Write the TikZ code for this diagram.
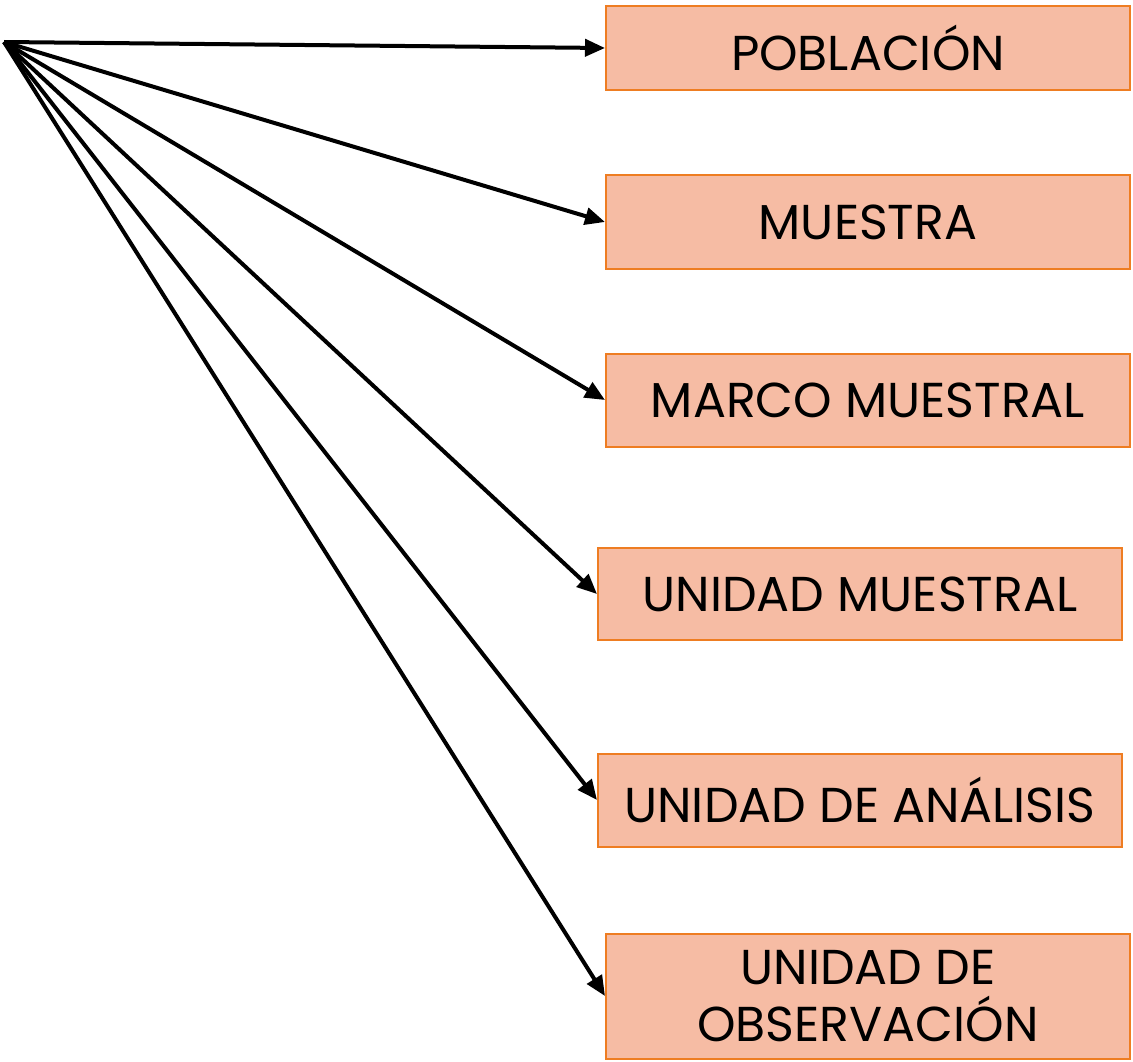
\documentclass[tikz,border=0pt]{standalone}
\usepackage{fontspec}
\setmainfont{Poppins}
\usetikzlibrary{arrows.meta}
\definecolor{boxfill}{HTML}{F6BCA4}
\definecolor{boxline}{HTML}{EE7D22}
\tikzstyle{concepto}=[draw=boxline, line width=2pt, fill=boxfill,
  minimum width=524pt, inner sep=0pt, align=center,
  font=\fontsize{49}{57}\selectfont]
\tikzstyle{flecha}=[-{Triangle[length=20pt,width=17pt]}, line width=4pt]
\begin{document}
\begin{tikzpicture}[x=1pt,y=-1pt]
  \useasboundingbox (0,0) rectangle (1133,1062);

  \coordinate (origen) at (4,42);

  \node[concepto, minimum height=84pt] (pob)  at (868,48)  {POBLACIÓN};
  \node[concepto, minimum height=93pt] (mue)  at (868,222) {MUESTRA};
  \node[concepto, minimum height=93pt] (mar)  at (868,400) {MARCO MUESTRAL};
  \node[concepto, minimum height=92pt] (uni)  at (860,594) {UNIDAD MUESTRAL};
  \node[concepto, minimum height=93pt] (ana)  at (860,800) {UNIDAD DE ANÁLISIS};
  \node[concepto, minimum height=125pt] (obs) at (868,996) {UNIDAD DE\\OBSERVACIÓN};

\draw[flecha] (origen) -- (pob.west);
\draw[flecha] (origen) -- (mue.west);
\draw[flecha] (origen) -- (mar.west);
\draw[flecha] (origen) -- (uni.west);
\draw[flecha] (origen) -- (ana.west);
\draw[flecha] (origen) -- (obs.west);
\end{tikzpicture}
\end{document}
